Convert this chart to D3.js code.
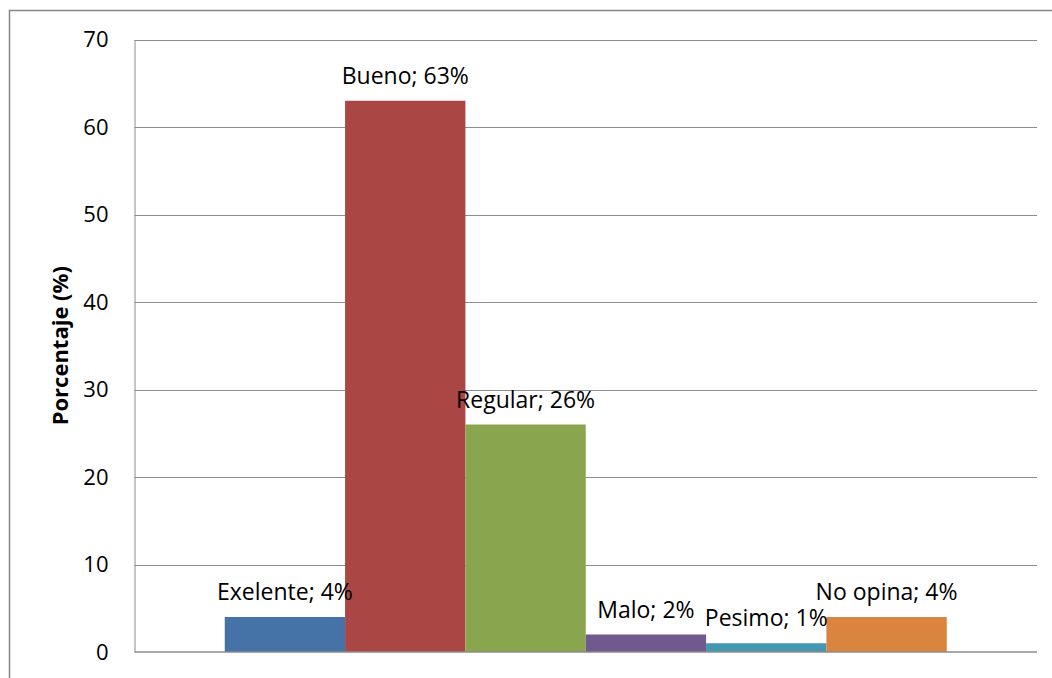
<!DOCTYPE html>
<html>
<head>
<meta charset="utf-8">
<script src="https://cdn.jsdelivr.net/npm/d3@7"></script>
<style>
  body { margin: 0; background: #fff; }
  text { font-family: "Open Sans", "Noto Sans", sans-serif; }
</style>
</head>
<body>
<div id="chart"></div>
<script>
// chart data
const categories = ["Exelente", "Bueno", "Regular", "Malo", "Pesimo", "No opina"];
const values = [4, 63, 26, 2, 1, 4];
const colors = ["#4572A7", "#AA4643", "#89A54E", "#71588F", "#4198AF", "#DB843D"];
const yTicks = [0, 10, 20, 30, 40, 50, 60, 70];

const width = 1052;
const height = 678;
const margin = {left: 134.5, right: 15, bottom: 26, top: 39.5};

const svg = d3.select("#chart")
  .append("svg")
  .attr("width", width)
  .attr("height", height);

// outer chart border
svg.append("rect")
  .attr("x", 9.5).attr("y", 10.5)
  .attr("width", width + 10).attr("height", height + 10)
  .attr("fill", "none")
  .attr("stroke", "#868686")
  .attr("stroke-width", 1.5);

const yScale = d3.scaleLinear()
  .domain([0, 70])
  .range([height - margin.bottom, margin.top]);

const xScale = d3.scaleBand()
  .domain(categories)
  .range([margin.left, width - margin.right])
  .paddingInner(0)
  .paddingOuter(0.75);

// gridlines
svg.append("g")
  .selectAll("line")
  .data(yTicks.filter(d => d > 0))
  .enter()
  .append("line")
    .attr("x1", margin.left)
    .attr("x2", width - margin.right)
    .attr("y1", d => Math.round(yScale(d)) + 0.5)
    .attr("y2", d => Math.round(yScale(d)) + 0.5)
    .attr("stroke", "#8c8c8c")
    .attr("stroke-width", 1);

// y axis
const yAxis = svg.append("g")
  .attr("transform", `translate(${margin.left}, 0)`)
  .call(d3.axisLeft(yScale).tickValues(yTicks).tickSize(0).tickPadding(26));
yAxis.select(".domain").attr("stroke", "#8c8c8c");
yAxis.selectAll("text")
  .attr("font-size", "22px")
  .attr("fill", "#000")
  .attr("font-family", "Open Sans");

// bars
svg.selectAll(".bar")
  .data(values)
  .enter()
  .append("rect")
    .attr("class", "bar")
    .attr("x", (d, i) => xScale(categories[i]))
    .attr("y", d => yScale(d))
    .attr("width", xScale.bandwidth())
    .attr("height", d => yScale(0) - yScale(d))
    .attr("fill", (d, i) => colors[i]);

// x axis baseline
svg.append("line")
  .attr("x1", margin.left).attr("x2", width - margin.right)
  .attr("y1", yScale(0)).attr("y2", yScale(0))
  .attr("stroke", "#8c8c8c").attr("stroke-width", 1.5);

// data labels
svg.selectAll(".label")
  .data(values)
  .enter()
  .append("text")
    .attr("class", "label")
    .attr("x", (d, i) => xScale(categories[i]) + xScale.bandwidth() / 2)
    .attr("y", d => yScale(d) - 17)
    .attr("text-anchor", "middle")
    .attr("font-size", "23px")
    .attr("fill", "#000")
    .text((d, i) => categories[i] + "; " + d + "%");

// y axis title
svg.append("text")
  .attr("transform", `translate(68, ${(yScale(0) + yScale(70)) / 2}) rotate(-90)`)
  .attr("text-anchor", "middle")
  .attr("font-size", "22px")
  .attr("font-weight", "bold")
  .attr("fill", "#000")
  .text("Porcentaje (%)");
</script>
</body>
</html>
